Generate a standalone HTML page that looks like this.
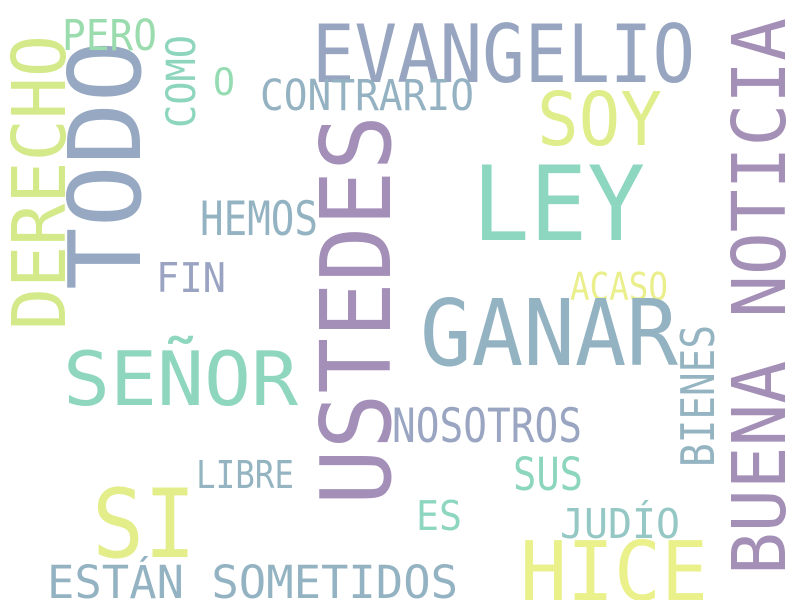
<!DOCTYPE html>
<html><head><meta charset="utf-8"><style>
html,body{margin:0;padding:0;background:#fff;}
svg{display:block;}
text{font-family:"DejaVu Sans Mono","Liberation Mono",monospace;}
</style></head><body>
<svg width="800" height="600" viewBox="0 0 800 600">
<rect width="800" height="600" fill="#fff"/>
<text x="312" y="82" font-size="80" fill="#97a5c0" textLength="383" lengthAdjust="spacingAndGlyphs">EVANGELIO</text>
<text transform="translate(140,290) rotate(-90)" font-size="100" fill="#97a9c2" textLength="250" lengthAdjust="spacingAndGlyphs">TODO</text>
<text transform="translate(65,330) rotate(-90)" font-size="74" fill="#d4ea8a" textLength="295" lengthAdjust="spacingAndGlyphs">DERECHO</text>
<text x="62" y="50" font-size="43" fill="#9adcae" textLength="95" lengthAdjust="spacingAndGlyphs">PERO</text>
<text transform="translate(195,128) rotate(-90)" font-size="40" fill="#8dd6bd" textLength="93" lengthAdjust="spacingAndGlyphs">COMO</text>
<text x="213" y="95" font-size="37" fill="#96dcb2" textLength="22" lengthAdjust="spacingAndGlyphs">O</text>
<text x="260" y="110" font-size="43" fill="#94b2c2" textLength="214" lengthAdjust="spacingAndGlyphs">CONTRARIO</text>
<text x="537" y="145" font-size="74" fill="#dfed8a" textLength="125" lengthAdjust="spacingAndGlyphs">SOY</text>
<text transform="translate(785,575) rotate(-90)" font-size="74" fill="#a48fb7" textLength="557" lengthAdjust="spacingAndGlyphs">BUENA NOTICIA</text>
<text x="472" y="240" font-size="103" fill="#8dd6c0" textLength="173" lengthAdjust="spacingAndGlyphs">LEY</text>
<text transform="translate(390,505) rotate(-90)" font-size="97" fill="#a38fb7" textLength="390" lengthAdjust="spacingAndGlyphs">USTEDES</text>
<text x="200" y="235" font-size="47" fill="#94b3c2" textLength="118" lengthAdjust="spacingAndGlyphs">HEMOS</text>
<text x="156" y="292" font-size="41" fill="#9aa4c2" textLength="70" lengthAdjust="spacingAndGlyphs">FIN</text>
<text x="570" y="300" font-size="38" fill="#eaef8c" textLength="98" lengthAdjust="spacingAndGlyphs">ACASO</text>
<text x="420" y="365" font-size="92" fill="#94b3c2" textLength="258" lengthAdjust="spacingAndGlyphs">GANAR</text>
<text x="63" y="405" font-size="75" fill="#8ed6bd" textLength="235" lengthAdjust="spacingAndGlyphs">SEÑOR</text>
<text transform="translate(714,467) rotate(-90)" font-size="46" fill="#94b4c2" textLength="142" lengthAdjust="spacingAndGlyphs">BIENES</text>
<text x="392" y="442" font-size="47" fill="#9aa5c2" textLength="190" lengthAdjust="spacingAndGlyphs">NOSOTROS</text>
<text x="196" y="488" font-size="38" fill="#94b4c2" textLength="98" lengthAdjust="spacingAndGlyphs">LIBRE</text>
<text x="513" y="490" font-size="45" fill="#8dd6be" textLength="70" lengthAdjust="spacingAndGlyphs">SUS</text>
<text x="92" y="557" font-size="95" fill="#e3ee8b" textLength="104" lengthAdjust="spacingAndGlyphs">SI</text>
<text x="416" y="530" font-size="41" fill="#8dd6c0" textLength="46" lengthAdjust="spacingAndGlyphs">ES</text>
<text x="560" y="538" font-size="41" fill="#95c8c4" textLength="120" lengthAdjust="spacingAndGlyphs">JUDÍO</text>
<text x="520" y="600" font-size="82" fill="#eaf08a" textLength="188" lengthAdjust="spacingAndGlyphs">HICE</text>
<text x="47" y="598" font-size="45" fill="#94b3c2" textLength="411" lengthAdjust="spacingAndGlyphs">ESTÁN SOMETIDOS</text>
</svg>
</body></html>
